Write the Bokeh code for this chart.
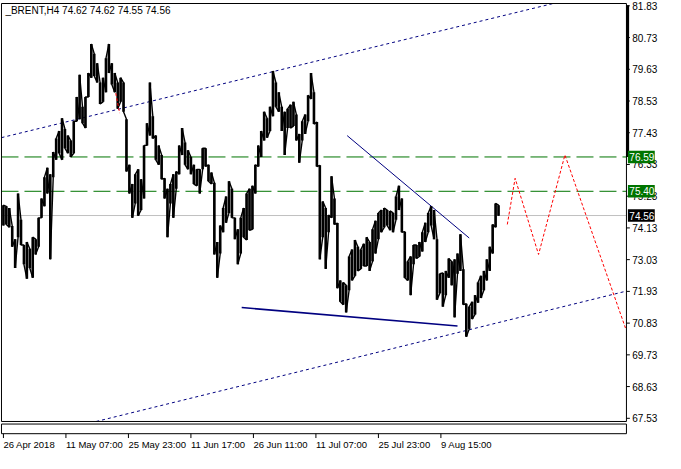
from bokeh.plotting import figure
from bokeh.models import Range1d
from bokeh.embed import file_html
from bokeh.resources import INLINE
from bokeh.core.properties import value

title_text = "_BRENT,H4  74.62 74.62 74.55 74.56"
bars_per_entry = 3  # each entry summarises 3 consecutive H4 bars

highs = [74.92, 74.88, 74.82, 74.20, 73.74, 75.32, 74.41, 73.54, 73.64, 73.41,
         73.81, 73.74, 74.48, 75.15, 75.89, 76.22, 75.99, 76.76, 77.23, 77.49,
         77.93, 77.56, 77.33, 77.16, 77.83, 78.67, 79.44, 78.33, 78.67, 79.50,
         80.51, 80.17, 79.84, 79.17, 79.34, 80.01, 80.51, 79.84, 79.50, 79.17,
         79.34, 79.17, 77.90, 76.32, 75.65, 75.99, 76.16, 75.82, 76.99, 77.76,
         79.17, 78.00, 77.33, 76.99, 76.66, 75.85, 75.49, 75.65, 75.99, 76.09,
         76.99, 77.59, 77.09, 76.82, 76.59, 76.32, 76.16, 76.16, 76.89, 76.89,
         76.32, 76.05, 75.70, 73.64, 74.21, 74.82, 75.22, 75.75, 75.49, 74.48,
         74.08, 74.48, 74.82, 75.32, 75.49, 75.59, 76.32, 76.99, 77.49, 78.16,
         77.93, 78.33, 79.57, 79.17, 78.83, 78.33, 78.16, 78.26, 78.40, 78.50,
         78.06, 77.39, 77.83, 78.06, 78.73, 79.50, 78.83, 77.80, 76.30, 75.05,
         74.82, 74.58, 75.92, 75.15, 74.30, 72.31, 72.24, 72.14, 73.14, 73.38,
         73.71, 73.48, 73.38, 73.58, 73.81, 73.64, 74.08, 74.38, 74.65, 74.75,
         74.82, 74.75, 74.72, 74.65, 75.22, 75.59, 75.15, 74.00, 72.97, 73.14,
         73.54, 73.54, 73.64, 73.98, 74.31, 74.65, 74.88, 74.75, 73.74, 72.54,
         72.57, 72.64, 73.07, 72.97, 73.04, 73.24, 73.91, 72.70, 71.50, 71.40,
         71.57, 71.80, 72.24, 72.47, 72.64, 73.04, 73.48, 74.25, 74.98, 74.92]

lows = [74.21, 74.25, 74.15, 73.48, 72.74, 73.81, 73.54, 72.87, 72.37, 72.74,
        72.40, 73.21, 73.48, 74.48, 74.88, 75.32, 73.04, 75.89, 76.49, 76.72,
        76.49, 76.89, 76.72, 76.59, 76.72, 77.83, 77.90, 77.76, 77.59, 78.67,
        79.34, 79.40, 79.17, 78.43, 78.50, 78.83, 79.50, 79.10, 78.83, 78.26,
        78.50, 78.16, 76.09, 75.32, 74.48, 74.98, 74.55, 74.75, 75.15, 76.99,
        77.33, 77.23, 76.49, 76.32, 75.82, 75.15, 73.81, 74.98, 74.48, 75.49,
        75.99, 76.66, 76.32, 76.16, 75.99, 75.65, 75.59, 75.32, 76.16, 76.26,
        75.75, 75.65, 73.21, 72.40, 73.24, 73.98, 74.31, 74.65, 74.48, 73.74,
        72.87, 73.24, 73.81, 73.71, 74.05, 74.08, 75.32, 76.26, 76.59, 77.16,
        77.26, 77.49, 78.00, 78.33, 78.16, 77.49, 76.66, 77.59, 77.59, 77.66,
        77.16, 76.39, 77.16, 77.39, 77.83, 78.60, 77.73, 76.26, 73.04, 73.81,
        72.71, 73.98, 74.48, 74.25, 72.04, 71.57, 71.47, 71.20, 71.97, 72.31,
        72.47, 72.64, 72.71, 72.81, 72.81, 72.64, 72.97, 73.24, 73.74, 73.98,
        74.15, 74.21, 74.05, 73.98, 74.41, 74.75, 73.98, 72.40, 72.31, 71.80,
        72.87, 73.07, 73.14, 73.31, 73.64, 73.98, 74.21, 73.74, 71.64, 71.87,
        71.40, 71.80, 72.40, 72.14, 71.03, 72.54, 72.64, 71.47, 70.36, 70.63,
        70.97, 71.13, 71.54, 71.70, 71.97, 72.31, 72.64, 73.24, 74.15, 74.55]

price_ticks = [67.53, 68.63, 69.73, 70.83, 71.93, 73.03, 74.13,
               75.23, 76.33, 77.43, 78.53, 79.63, 80.73, 81.83]
time_labels = ["26 Apr 2018", "11 May 07:00", "25 May 23:00", "11 Jun 17:00",
               "26 Jun 11:00", "11 Jul 07:00", "25 Jul 23:00", "9 Aug 15:00"]
time_label_bars = [0, 64, 128, 192, 256, 320, 384, 448]

levels = [76.59, 75.40]
last_price = 74.56

channel_upper_bars, channel_upper_prices = [-2, 563], [77.26, 81.91]
channel_lower_bars, channel_lower_prices = [95, 638], [67.42, 71.94]
resist_bars, resist_prices = [352, 477], [77.33, 73.78]
support_bars, support_prices = [244, 465], [71.37, 70.73]
forecast_bars = [516, 524, 548, 575, 637]
forecast_prices = [74.25, 75.85, 73.21, 76.66, 70.66]
stray_bars, stray_prices = [115, 119], [78.80, 78.11]

# chart window limits (bars / prices)
win_left, win_right = -2, 638
win_top, win_bottom = 81.91, 67.42

xs = [i * bars_per_entry for i in range(len(highs))]

FONT = value("Liberation Sans")
GREEN = "#007400"

p = figure(width=665, height=453, x_range=Range1d(-3, 678), y_range=Range1d(66.31, 82.014),
           output_backend="svg", toolbar_location=None,
           x_axis_location=None, y_axis_location=None,
           min_border=0, min_border_left=0, min_border_right=0,
           min_border_top=0, min_border_bottom=0)
p.grid.visible = False
p.outline_line_color = None
p.background_fill_color = "white"
p.border_fill_color = "white"
# layout range (screen-like units, 0 = top of window) for the sub-window and time scale
p.extra_y_ranges = {"lay": Range1d(469, 0)}

# horizontal levels
p.segment(x0=[win_left] * 2, y0=levels, x1=[win_right] * 2, y1=levels,
          line_color=GREEN, line_width=1, line_dash="17 6")
p.segment(x0=[win_left], y0=[last_price], x1=[win_right], y1=[last_price],
          line_color="#c0c0c0", line_width=1)

# channel & trend lines
p.line(channel_upper_bars, channel_upper_prices, line_color="#000080", line_width=1, line_dash="3 3")
p.line(channel_lower_bars, channel_lower_prices, line_color="#000080", line_width=1, line_dash="3 3")
p.line(resist_bars, resist_prices, line_color="#000080", line_width=1)
p.line(support_bars, support_prices, line_color="#000080", line_width=1.6)

# price bars
p.segment(x0=xs, y0=lows, x1=xs, y1=highs, line_color="black", line_width=2.6)
px, py, cur = [], [], None
for x, lo, hi in zip(xs, lows, highs):
    if cur is None or abs(cur - lo) <= abs(cur - hi):
        px += [x, x]; py += [lo, hi]; cur = hi
    else:
        px += [x, x]; py += [hi, lo]; cur = lo
p.line(px, py, line_color="black", line_width=1.4)

# forecast path
p.line(forecast_bars, forecast_prices, line_color="red", line_width=1, line_dash="3 2")
p.line(stray_bars, stray_prices, line_color="red", line_width=1, line_dash="3 2")

# chart window border
p.line([win_left, win_right, win_right, win_left, win_left],
       [win_top, win_top, win_bottom, win_bottom, win_top], line_color="black", line_width=1)

# price scale
p.segment(x0=[win_right] * len(price_ticks), y0=price_ticks,
          x1=[win_right + 3.5] * len(price_ticks), y1=price_ticks, line_color="black", line_width=1)
p.text(x=[win_right + 6] * len(price_ticks), y=price_ticks, text=[f"{t:.2f}" for t in price_ticks],
       text_font=FONT, text_font_size="10px", text_color="black",
       text_baseline="middle", text_align="left")
p.segment(x0=[win_right + 1.2], y0=[81.85], x1=[win_right + 1.2], y1=[levels[0]],
          line_color="black", line_width=3)

box_prices = [levels[0], levels[1], last_price]
box_colors = [GREEN, GREEN, "black"]
p.quad(left=[win_right + 1.5] * 3, right=[win_right + 29] * 3,
       top=[b + 0.215 for b in box_prices], bottom=[b - 0.215 for b in box_prices],
       fill_color=box_colors, line_color=None)
p.text(x=[win_right + 3] * 3, y=box_prices, text=[f"{b:.2f}" for b in box_prices],
       text_font=FONT, text_font_size="10px", text_color="white",
       text_baseline="middle", text_align="left")

# title
p.text(x=[2], y=[81.66], text=[title_text], text_font=FONT, text_font_size="10px",
       text_color="black", text_baseline="middle", text_align="left")

# empty indicator sub-window and time scale
p.quad(left=[win_left], right=[win_right], top=[438.5], bottom=[448.5],
       fill_color=None, line_color="black", line_width=1, y_range_name="lay")
p.segment(x0=time_label_bars, y0=[448.5] * len(time_label_bars),
          x1=time_label_bars, y1=[453] * len(time_label_bars),
          line_color="black", line_width=1, y_range_name="lay")
p.text(x=time_label_bars, y=[453.5] * len(time_label_bars), text=time_labels,
       text_font=FONT, text_font_size="9.5px", text_color="black",
       text_baseline="top", text_align="left", y_range_name="lay")

open("out.html", "w").write(file_html(p, INLINE))
